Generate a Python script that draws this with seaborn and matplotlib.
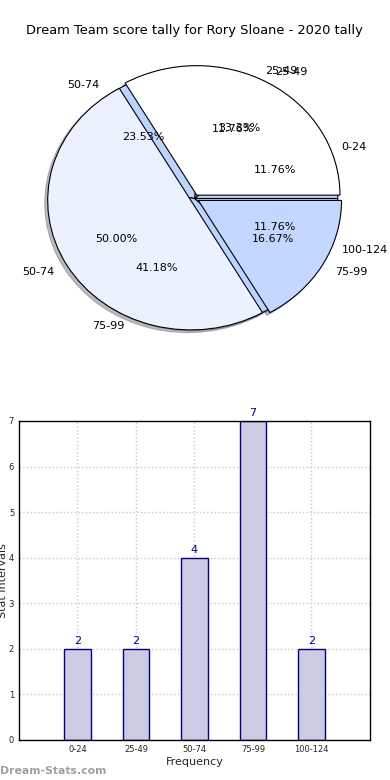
import numpy as np
import pandas as pd
import matplotlib
matplotlib.use('Agg')
import matplotlib.pyplot as plt
import seaborn as sns


# Data
title = 'Dream Team score tally for Rory Sloane - 2020 tally'
intervals = ['0-24', '25-49', '50-74', '75-99', '100-124']
counts = [2, 2, 4, 7, 2]

# second (overlaid) pie
pie2_labels = ['25-49', '50-74', '75-99']
pie2_values = [2, 3, 1]

sns.set_theme(style='white')
plt.rcParams['font.family'] = ['DejaVu Sans']

fig = plt.figure(figsize=(3.9, 7.8), dpi=100)

# Pie part
ax1 = fig.add_axes([0.040, 0.538, 0.918, 0.415])
ax1.pie(counts, labels=intervals, autopct='%1.2f%%', startangle=0,
        colors=['#BBD4FF'] * len(counts),
        shadow={'ox': -0.015, 'oy': -0.015, 'shade': 0.5},
        labeldistance=1.1, pctdistance=0.6,
        wedgeprops={'edgecolor': 'black', 'linewidth': 0.8},
        textprops={'fontsize': 8, 'color': 'black'})
ax1.pie(pie2_values, labels=pie2_labels, autopct='%1.2f%%', startangle=0,
        colors=['#FFFFFF', '#EBF1FF', '#C4D8FF'],
        shadow={'ox': -0.015, 'oy': -0.015, 'shade': 0.5},
        explode=[0.03] * len(pie2_values),
        labeldistance=1.1, pctdistance=0.6,
        wedgeprops={'edgecolor': 'black', 'linewidth': 0.8},
        textprops={'fontsize': 8, 'color': 'black'})
ax1.set_aspect('auto')
ax1.set_xlim(-1.25, 1.25)
ax1.set_ylim(-1.25, 1.25)
ax1.set_title(title, fontsize=9.4, pad=1, color='black')

# Bar part
df = pd.DataFrame({'Interval': intervals, 'Count': counts})
ax2 = fig.add_axes([0.0487, 0.0513, 0.9, 0.409])
sns.barplot(data=df, x='Interval', y='Count', color='#CBCBE3', saturation=1,
            edgecolor='#000080', linewidth=1, width=0.45, ax=ax2)
ax2.bar_label(ax2.containers[0], padding=2, color='#000080', fontsize=8)
ax2.set_xlim(-1, 5)
ax2.set_ylim(0, 7)
ax2.set_yticks(range(0, 8))
ax2.tick_params(labelsize=6, length=3, color='#999999', direction='in')
ax2.grid(True, linestyle=':', color='#C8C8C8', linewidth=1)
ax2.set_axisbelow(True)
for s in ax2.spines.values():
    s.set_color('black')
    s.set_linewidth(1)
ax2.set_xlabel('Frequency', fontsize=8, labelpad=2)
ax2.set_ylabel('Stat Intervals', fontsize=8)
ax2.yaxis.set_label_coords(-0.031, 0.5)

fig.text(0.0, 0.005, 'Dream-Stats.com', fontsize=7.8, color='#A0A0A0',
         fontweight='bold', ha='left', va='bottom')

fig.savefig('out.png', dpi=100)
